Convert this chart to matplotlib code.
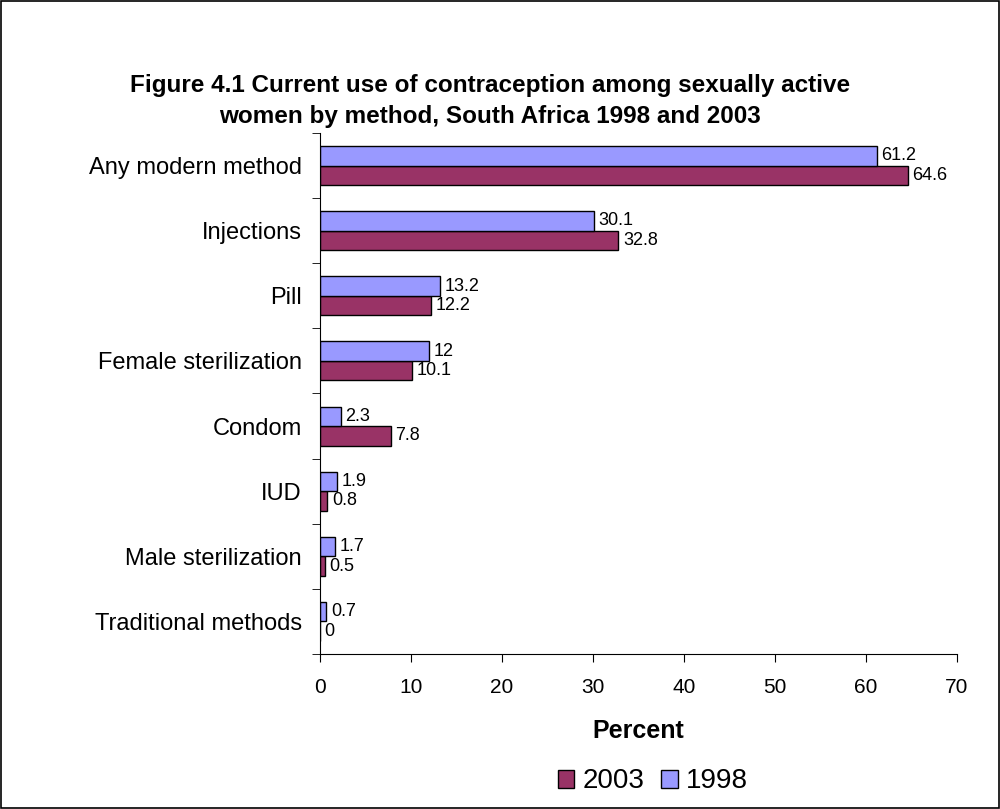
import matplotlib
matplotlib.use("Agg")
import matplotlib.pyplot as plt
from matplotlib.patches import Rectangle
import numpy as np

plt.rcParams["font.family"] = ["Liberation Sans", "DejaVu Sans"]

methods = ["Any modern method", "Injections", "Pill", "Female sterilization",
           "Condom", "IUD", "Male sterilization", "Traditional methods"]
vals_2003 = [64.6, 32.8, 12.2, 10.1, 7.8, 0.8, 0.5, 0]
vals_1998 = [61.2, 30.1, 13.2, 12, 2.3, 1.9, 1.7, 0.7]
labels_1998 = ["61.2", "30.1", "13.2", "12", "2.3", "1.9", "1.7", "0.7"]
labels_2003 = ["64.6", "32.8", "12.2", "10.1", "7.8", "0.8", "0.5", "0"]

c2003 = "#993366"
c1998 = "#9999ff"

fig = plt.figure(figsize=(10, 8.09), dpi=100)
ax = fig.add_axes([0.32, 0.1916, 0.637, 0.644])

y = np.arange(len(methods))
h = 0.3
ax.barh(y + h / 2, vals_2003, height=h, color=c2003, edgecolor="black", linewidth=1, label="2003")
ax.barh(y - h / 2, vals_1998, height=h, color=c1998, edgecolor="black", linewidth=1, label="1998")

for yi, v, t in zip(y, vals_1998, labels_1998):
    ax.text(v + 0.5, yi - h / 2, t, va="center", ha="left", fontsize=13)
for yi, v, t in zip(y, vals_2003, labels_2003):
    ax.text(v + 0.5, yi + h / 2, t, va="center", ha="left", fontsize=13)

ax.set_ylim(len(methods) - 0.5, -0.5)
ax.set_xlim(0, 70)
ax.set_xticks(range(0, 71, 10))
ax.set_yticks(y)
ax.set_yticklabels(methods, fontsize=17)
ax.set_yticks(np.arange(-0.5, len(methods), 1), minor=True)
ax.tick_params(axis="y", which="major", length=0, pad=13)
ax.tick_params(axis="y", which="minor", length=6, direction="out")
ax.tick_params(axis="x", length=6, direction="out", labelsize=15, pad=11)
for s in ["top", "right"]:
    ax.spines[s].set_visible(False)
ax.set_xlabel("Percent", fontsize=18, fontweight="bold", labelpad=16)

fig.text(0.49, 0.8755, "Figure 4.1 Current use of contraception among sexually active\n"
         "women by method, South Africa 1998 and 2003",
         ha="center", va="center", fontsize=17.5, fontweight="bold", linespacing=1.45)

handles, leg_labels = ax.get_legend_handles_labels()
fig.legend(handles, leg_labels, loc="center", bbox_to_anchor=(0.653, 0.034), ncol=2,
           frameon=False, fontsize=20, handlelength=0.6, handleheight=0.6,
           handletextpad=0.3, columnspacing=0.6)

fig.patches.append(Rectangle((0.001, 0.001), 0.998, 0.998, transform=fig.transFigure,
                             fill=False, edgecolor="black", linewidth=1.2))

fig.savefig("out.png")
plt.close(fig)
